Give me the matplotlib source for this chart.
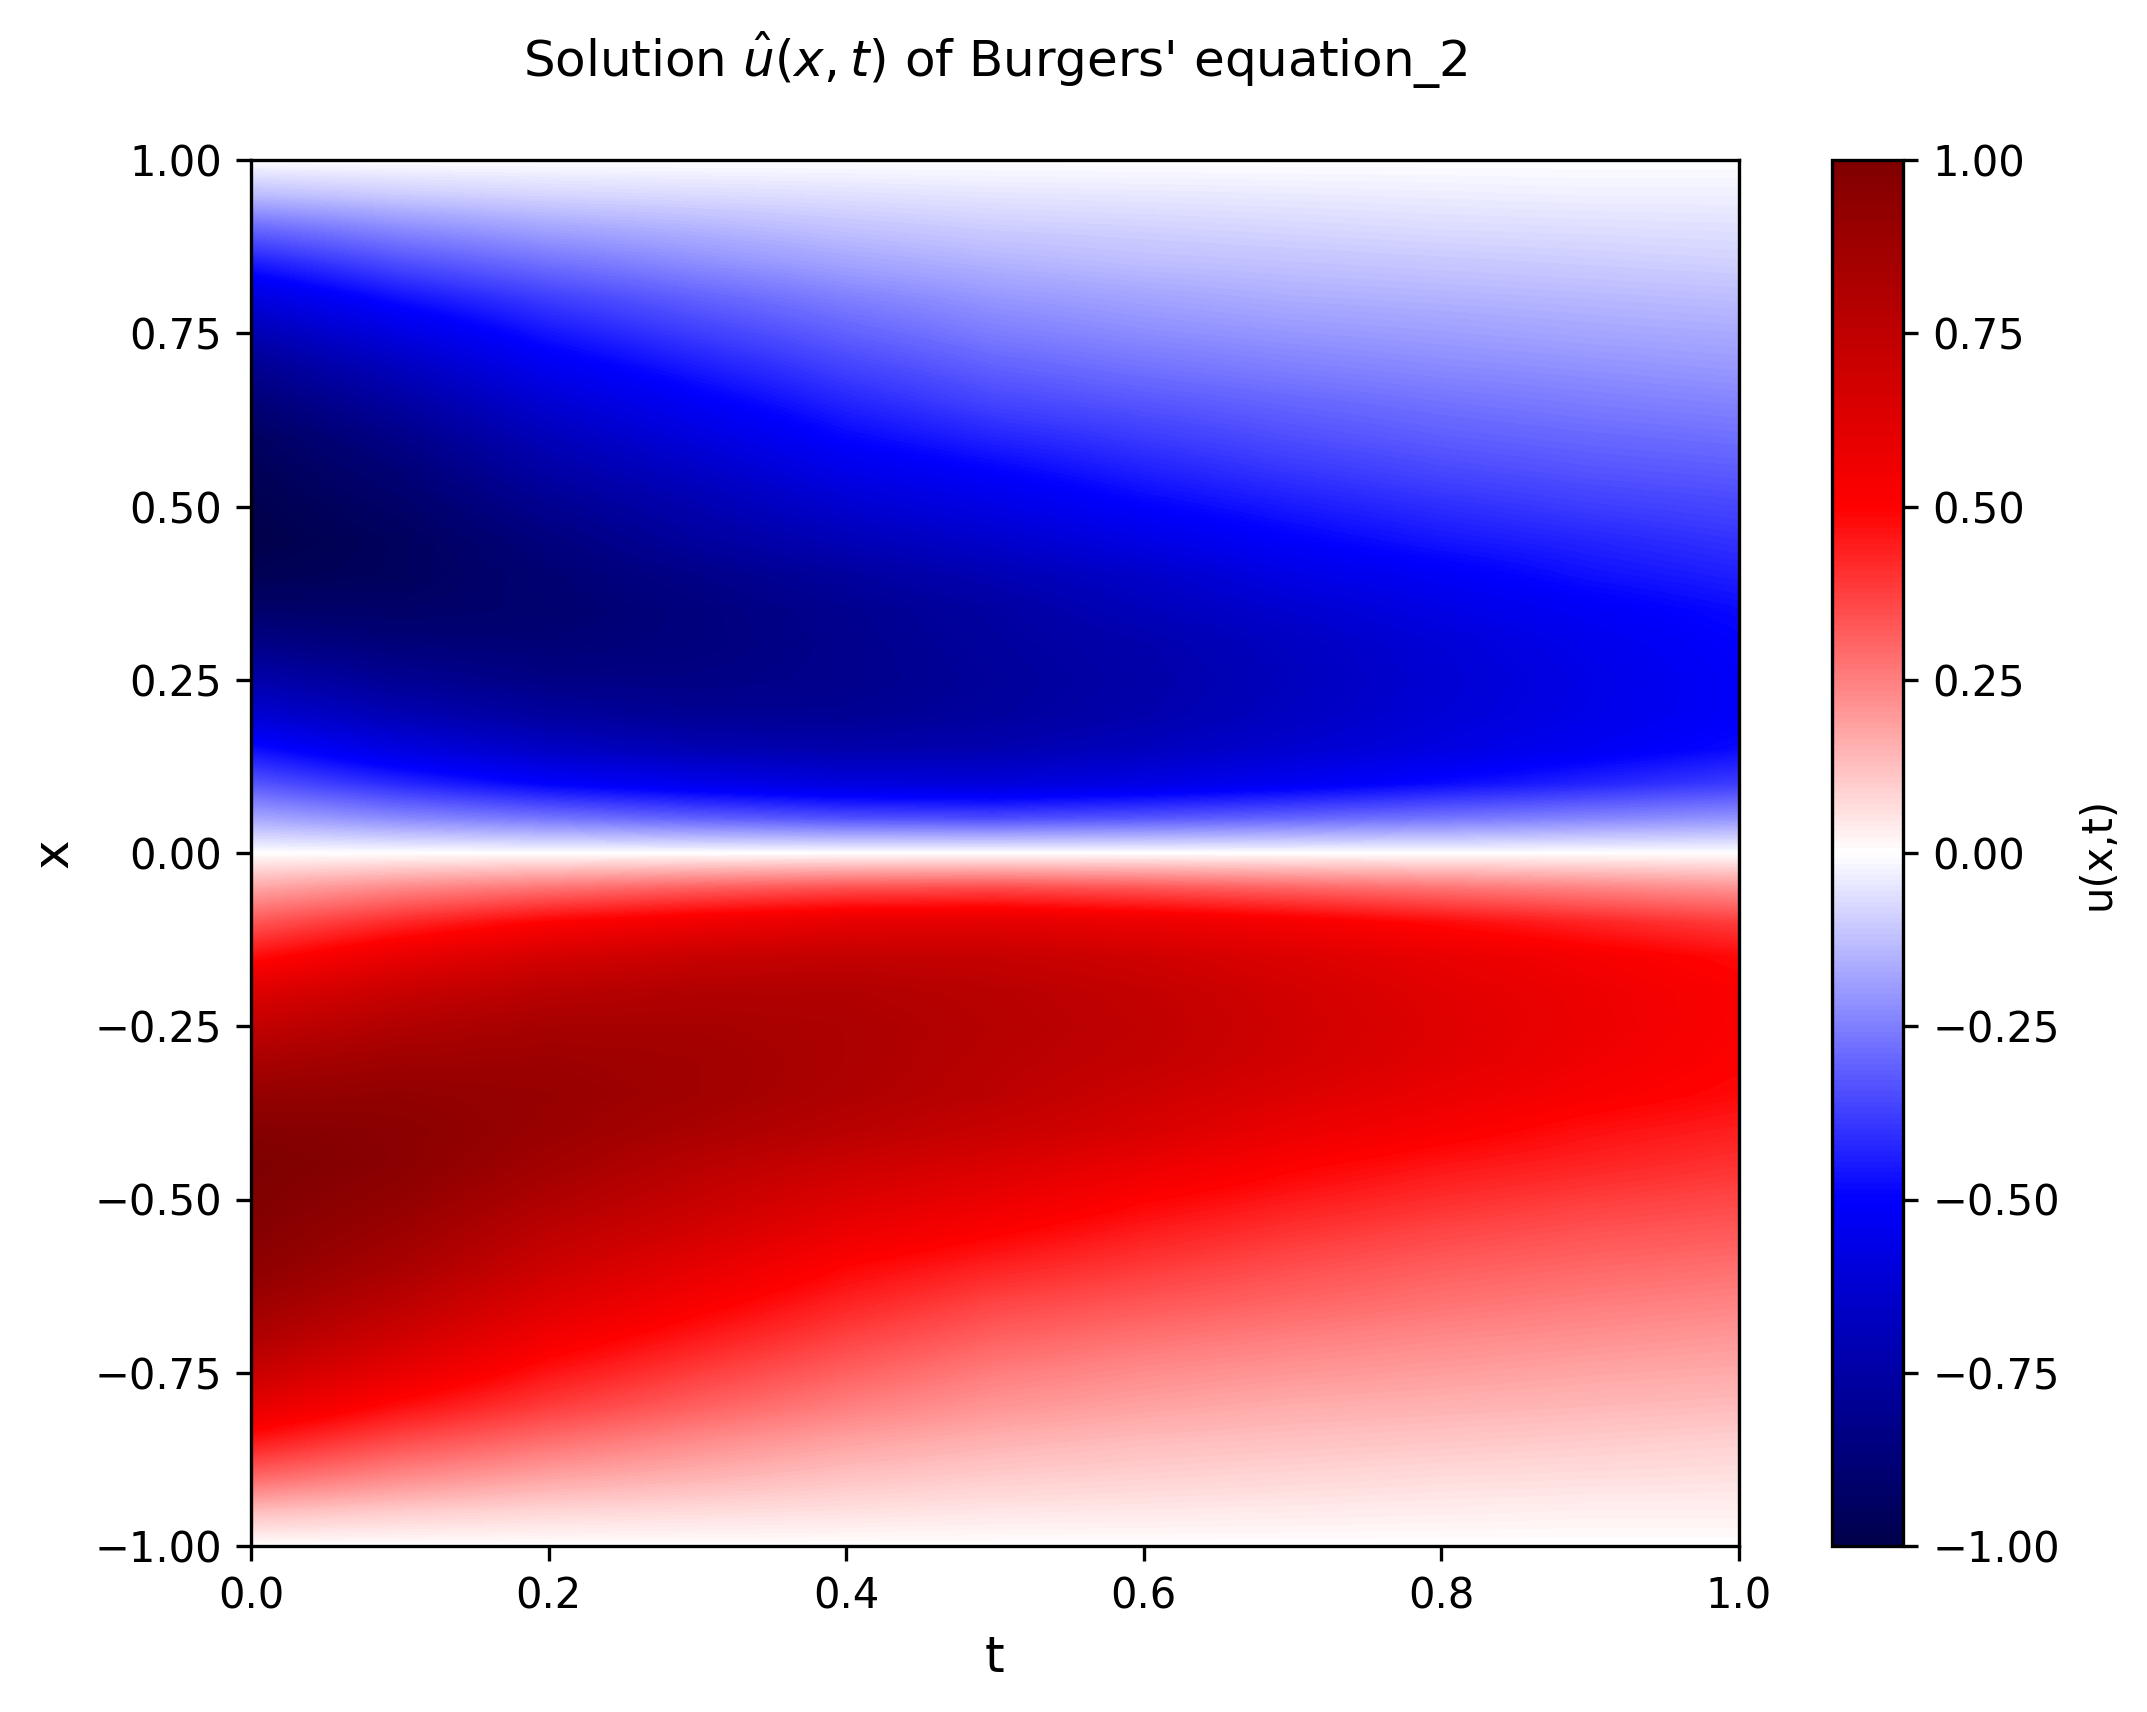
import numpy as np
import matplotlib
matplotlib.use('Agg')
import matplotlib.pyplot as plt

t_vals = [0.0, 0.1, 0.2, 0.3, 0.4, 0.5, 0.6, 0.7, 0.8, 0.9, 1.0]
x_vals = [1.0, 0.95, 0.9, 0.85, 0.8, 0.75, 0.7, 0.65, 0.6, 0.55, 0.5, 0.45, 0.4, 0.35,
          0.3, 0.25, 0.2, 0.15, 0.1, 0.05, 0.0, -0.05, -0.1, -0.15, -0.2, -0.25, -0.3,
          -0.35, -0.4, -0.45, -0.5, -0.55, -0.6, -0.65, -0.7, -0.75, -0.8, -0.85, -0.9,
          -0.95, -1.0]

# u(x,t), one row per x, top of the plot first
u_upper = [
    [-0.00, -0.00, -0.00, -0.00, -0.00, -0.00, -0.00, -0.00, -0.00, -0.00, -0.00],
    [-0.13, -0.10, -0.08, -0.07, -0.06, -0.05, -0.045, -0.04, -0.035, -0.03, -0.03],
    [-0.30, -0.23, -0.18, -0.15, -0.12, -0.10, -0.09, -0.08, -0.07, -0.065, -0.06],
    [-0.45, -0.35, -0.28, -0.225, -0.18, -0.15, -0.13, -0.12, -0.11, -0.10, -0.09],
    [-0.59, -0.47, -0.38, -0.31, -0.25, -0.205, -0.18, -0.16, -0.15, -0.14, -0.13],
    [-0.71, -0.58, -0.46, -0.38, -0.31, -0.255, -0.225, -0.205, -0.19, -0.175, -0.165],
    [-0.81, -0.68, -0.54, -0.45, -0.37, -0.31, -0.275, -0.25, -0.23, -0.215, -0.20],
    [-0.88, -0.76, -0.62, -0.52, -0.43, -0.365, -0.33, -0.30, -0.275, -0.255, -0.24],
    [-0.94, -0.83, -0.69, -0.59, -0.49, -0.43, -0.385, -0.345, -0.315, -0.295, -0.28],
    [-0.97, -0.88, -0.75, -0.66, -0.56, -0.50, -0.44, -0.395, -0.36, -0.335, -0.32],
    [-0.99, -0.92, -0.81, -0.72, -0.63, -0.57, -0.50, -0.45, -0.41, -0.38, -0.36],
    [-1.00, -0.95, -0.86, -0.77, -0.70, -0.64, -0.57, -0.505, -0.46, -0.43, -0.40],
    [-0.97, -0.95, -0.89, -0.83, -0.77, -0.71, -0.65, -0.57, -0.52, -0.47, -0.44],
    [-0.91, -0.92, -0.90, -0.86, -0.81, -0.76, -0.69, -0.63, -0.57, -0.52, -0.48],
    [-0.83, -0.87, -0.88, -0.86, -0.82, -0.77, -0.73, -0.67, -0.61, -0.55, -0.50],
    [-0.73, -0.80, -0.84, -0.84, -0.82, -0.78, -0.74, -0.68, -0.62, -0.565, -0.51],
    [-0.62, -0.71, -0.77, -0.80, -0.80, -0.77, -0.73, -0.67, -0.61, -0.56, -0.51],
    [-0.47, -0.58, -0.66, -0.71, -0.73, -0.72, -0.68, -0.63, -0.58, -0.53, -0.48],
    [-0.33, -0.42, -0.50, -0.55, -0.59, -0.60, -0.57, -0.53, -0.48, -0.43, -0.38],
    [-0.17, -0.23, -0.27, -0.31, -0.34, -0.35, -0.33, -0.30, -0.27, -0.24, -0.21],
]
u_middle = [
    [0.00, 0.00, 0.00, 0.00, 0.00, 0.00, 0.00, 0.00, 0.00, 0.00, 0.00],
]
u_lower = [
    [0.17, 0.23, 0.27, 0.31, 0.34, 0.35, 0.33, 0.30, 0.27, 0.24, 0.21],
    [0.33, 0.42, 0.50, 0.55, 0.59, 0.60, 0.57, 0.53, 0.48, 0.43, 0.38],
    [0.47, 0.58, 0.66, 0.71, 0.73, 0.72, 0.68, 0.63, 0.58, 0.53, 0.48],
    [0.62, 0.71, 0.77, 0.80, 0.80, 0.77, 0.73, 0.67, 0.61, 0.56, 0.51],
    [0.73, 0.80, 0.84, 0.84, 0.82, 0.78, 0.74, 0.68, 0.62, 0.565, 0.51],
    [0.83, 0.87, 0.88, 0.86, 0.82, 0.77, 0.73, 0.67, 0.61, 0.55, 0.50],
    [0.91, 0.92, 0.90, 0.86, 0.81, 0.76, 0.69, 0.63, 0.57, 0.52, 0.48],
    [0.97, 0.95, 0.89, 0.83, 0.77, 0.71, 0.65, 0.57, 0.52, 0.47, 0.44],
    [1.00, 0.95, 0.86, 0.77, 0.70, 0.64, 0.57, 0.505, 0.46, 0.43, 0.40],
    [0.99, 0.92, 0.81, 0.72, 0.63, 0.57, 0.50, 0.45, 0.41, 0.38, 0.36],
    [0.97, 0.88, 0.75, 0.66, 0.56, 0.50, 0.44, 0.395, 0.36, 0.335, 0.32],
    [0.94, 0.83, 0.69, 0.59, 0.49, 0.43, 0.385, 0.345, 0.315, 0.295, 0.28],
    [0.88, 0.76, 0.62, 0.52, 0.43, 0.365, 0.33, 0.30, 0.275, 0.255, 0.24],
    [0.81, 0.68, 0.54, 0.45, 0.37, 0.31, 0.275, 0.25, 0.23, 0.215, 0.20],
    [0.71, 0.58, 0.46, 0.38, 0.31, 0.255, 0.225, 0.205, 0.19, 0.175, 0.165],
    [0.59, 0.47, 0.38, 0.31, 0.25, 0.205, 0.18, 0.16, 0.15, 0.14, 0.13],
    [0.45, 0.35, 0.28, 0.225, 0.18, 0.15, 0.13, 0.12, 0.11, 0.10, 0.09],
    [0.30, 0.23, 0.18, 0.15, 0.12, 0.10, 0.09, 0.08, 0.07, 0.065, 0.06],
    [0.13, 0.10, 0.08, 0.07, 0.06, 0.05, 0.045, 0.04, 0.035, 0.03, 0.03],
    [0.00, 0.00, 0.00, 0.00, 0.00, 0.00, 0.00, 0.00, 0.00, 0.00, 0.00],
]
x_ticks = [-1.0, -0.75, -0.5, -0.25, 0.0, 0.25, 0.5, 0.75, 1.0]
cbar_ticks = [-1.0, -0.75, -0.5, -0.25, 0.0, 0.25, 0.5, 0.75, 1.0]

u = np.array(u_upper + u_middle + u_lower)
dt = t_vals[1] - t_vals[0]
dx = x_vals[0] - x_vals[1]

W, H = 2147, 1712
fig = plt.figure(figsize=(W / 300, H / 300), dpi=300)
ax = fig.add_axes([251 / W, 1 - 1546 / H, (1739 - 251) / W, (1546 - 160) / H])
cax = fig.add_axes([1832 / W, 1 - 1546 / H, (1903 - 1832) / W, (1546 - 160) / H])

im = ax.imshow(u, cmap='seismic', vmin=-1, vmax=1, aspect='auto', origin='upper',
               extent=(t_vals[0] - dt / 2, t_vals[-1] + dt / 2, x_vals[-1] - dx / 2, x_vals[0] + dx / 2),
               interpolation='bilinear', interpolation_stage='data')
ax.set_xlim(0, 1)
ax.set_ylim(-1, 1)
ax.set_yticks(x_ticks)
ax.set_xlabel('t', fontsize=12)
ax.set_ylabel('x', fontsize=12)
ax.set_title(r"Solution $\hat{u}(x,t)$ of Burgers' equation_2", fontsize=12, pad=20)

cbar = fig.colorbar(im, cax=cax, label='u(x,t)', ticks=cbar_ticks)

fig.savefig('out.png', dpi=300)
